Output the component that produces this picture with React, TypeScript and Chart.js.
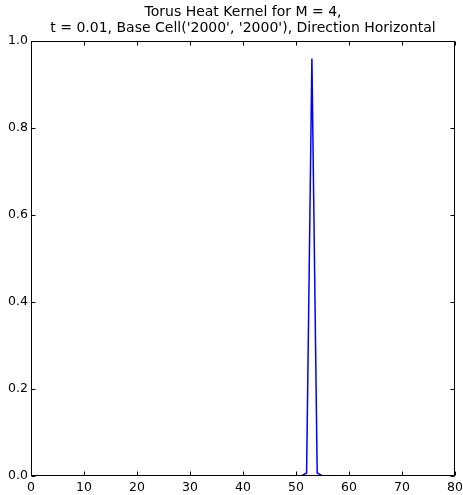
import React, { useEffect, useRef } from "react";
import { Chart, registerables } from "chart.js";

Chart.register(...registerables);

const titleLines = [
  "Torus Heat Kernel for M = 4,",
  "t = 0.01, Base Cell('2000', '2000'), Direction Horizontal",
];

const xValues = [
  0, 1, 2, 3, 4, 5, 6, 7, 8, 9, 10, 11, 12, 13, 14, 15, 16, 17, 18, 19, 20,
  21, 22, 23, 24, 25, 26, 27, 28, 29, 30, 31, 32, 33, 34, 35, 36, 37, 38, 39, 40,
  41, 42, 43, 44, 45, 46, 47, 48, 49, 50, 51, 52, 53, 54, 55, 56, 57, 58, 59, 60,
  61, 62, 63, 64, 65, 66, 67, 68, 69, 70, 71, 72, 73, 74, 75, 76, 77, 78, 79, 80,
];

const kernelValues = [
  0, 0, 0, 0, 0, 0, 0, 0, 0, 0, 0, 0, 0, 0, 0, 0, 0, 0, 0, 0, 0,
  0, 0, 0, 0, 0, 0, 0, 0, 0, 0, 0, 0, 0, 0, 0, 0, 0, 0, 0, 0,
  0, 0, 0, 0, 0, 0, 0, 0, 0, 0, 0, 0.007, 0.96, 0.007, 0, 0, 0, 0, 0, 0,
  0, 0, 0, 0, 0, 0, 0, 0, 0, 0, 0, 0, 0, 0, 0, 0, 0, 0, 0, 0,
];

const xTicks = [0, 10, 20, 30, 40, 50, 60, 70, 80];
const yTicks = [0, 0.2, 0.4, 0.6, 0.8, 1.0];

const FONT = '"DejaVu Sans", sans-serif';

const framePlugin = {
  id: "mplFrame",
  afterDraw(chart: any) {
    const { ctx, chartArea: a, scales } = chart;
    const x = scales.x;
    const y = scales.y;
    ctx.save();
    ctx.strokeStyle = "#000";
    ctx.lineWidth = 1;
    const L = Math.round(a.left) + 0.5;
    const R = Math.round(a.right) - 0.5;
    const T = Math.round(a.top) + 0.5;
    const B = Math.round(a.bottom) - 0.5;
    ctx.beginPath();
    for (const v of xTicks) {
      const px = Math.round(x.getPixelForValue(v)) + 0.5;
      ctx.moveTo(px, B);
      ctx.lineTo(px, B - 4);
      ctx.moveTo(px, T);
      ctx.lineTo(px, T + 4);
    }
    for (const v of yTicks) {
      const py = Math.round(y.getPixelForValue(v)) + 0.5;
      ctx.moveTo(L, py);
      ctx.lineTo(L + 4, py);
      ctx.moveTo(R, py);
      ctx.lineTo(R - 4, py);
    }
    ctx.stroke();
    ctx.strokeRect(L, T, R - L, B - T);
    // title
    ctx.fillStyle = "#000";
    ctx.font = `14px ${FONT}`;
    ctx.textAlign = "center";
    ctx.textBaseline = "alphabetic";
    const cx = (a.left + a.right) / 2;
    ctx.fillText(titleLines[0], cx, 16);
    ctx.fillText(titleLines[1], cx, 32);
    ctx.restore();
  },
};

export default function App() {
  const ref = useRef<HTMLCanvasElement | null>(null);
  useEffect(() => {
    if (!ref.current) return;
    const chart = new Chart(ref.current, {
      type: "line",
      data: {
        datasets: [
          {
            data: xValues.map((xv, i) => ({ x: xv, y: kernelValues[i] })),
            borderColor: "#0000ff",
            borderWidth: 1.5,
            pointRadius: 0,
            tension: 0,
            fill: false,
          },
        ],
      },
      options: {
        responsive: false,
        animation: false,
        layout: { padding: { left: 0, right: 8, top: 41, bottom: 0 } },
        plugins: {
          legend: { display: false },
          title: { display: false },
          tooltip: { enabled: false },
        },
        scales: {
          x: {
            type: "linear",
            min: 0,
            max: 80,
            afterBuildTicks: (s: any) => {
              s.ticks = xTicks.map((v) => ({ value: v }));
            },
            afterFit: (s: any) => {
              s.height = 19;
              s.paddingLeft = 0;
              s.paddingRight = 0;
            },
            grid: { display: false, drawTicks: false },
            border: { display: false },
            ticks: {
              padding: 4,
              color: "#000",
              font: { family: FONT, size: 12.5 },
              maxRotation: 0,
              autoSkip: false,
            },
          },
          y: {
            type: "linear",
            min: 0,
            max: 1,
            afterBuildTicks: (s: any) => {
              s.ticks = yTicks.map((v) => ({ value: v }));
            },
            afterFit: (s: any) => {
              s.width = 31;
              s.paddingTop = 0;
              s.paddingBottom = 0;
            },
            grid: { display: false, drawTicks: false },
            border: { display: false },
            ticks: {
              padding: 3,
              color: "#000",
              font: { family: FONT, size: 12.5 },
              callback: (v: any) => Number(v).toFixed(1),
              autoSkip: false,
            },
          },
        },
      },
      plugins: [framePlugin],
    });
    return () => chart.destroy();
  }, []);
  return (
    <div style={{ position: "absolute", left: 0, top: 0, width: 463, height: 495 }}>
      <canvas ref={ref} width={463} height={495} />
    </div>
  );
}
